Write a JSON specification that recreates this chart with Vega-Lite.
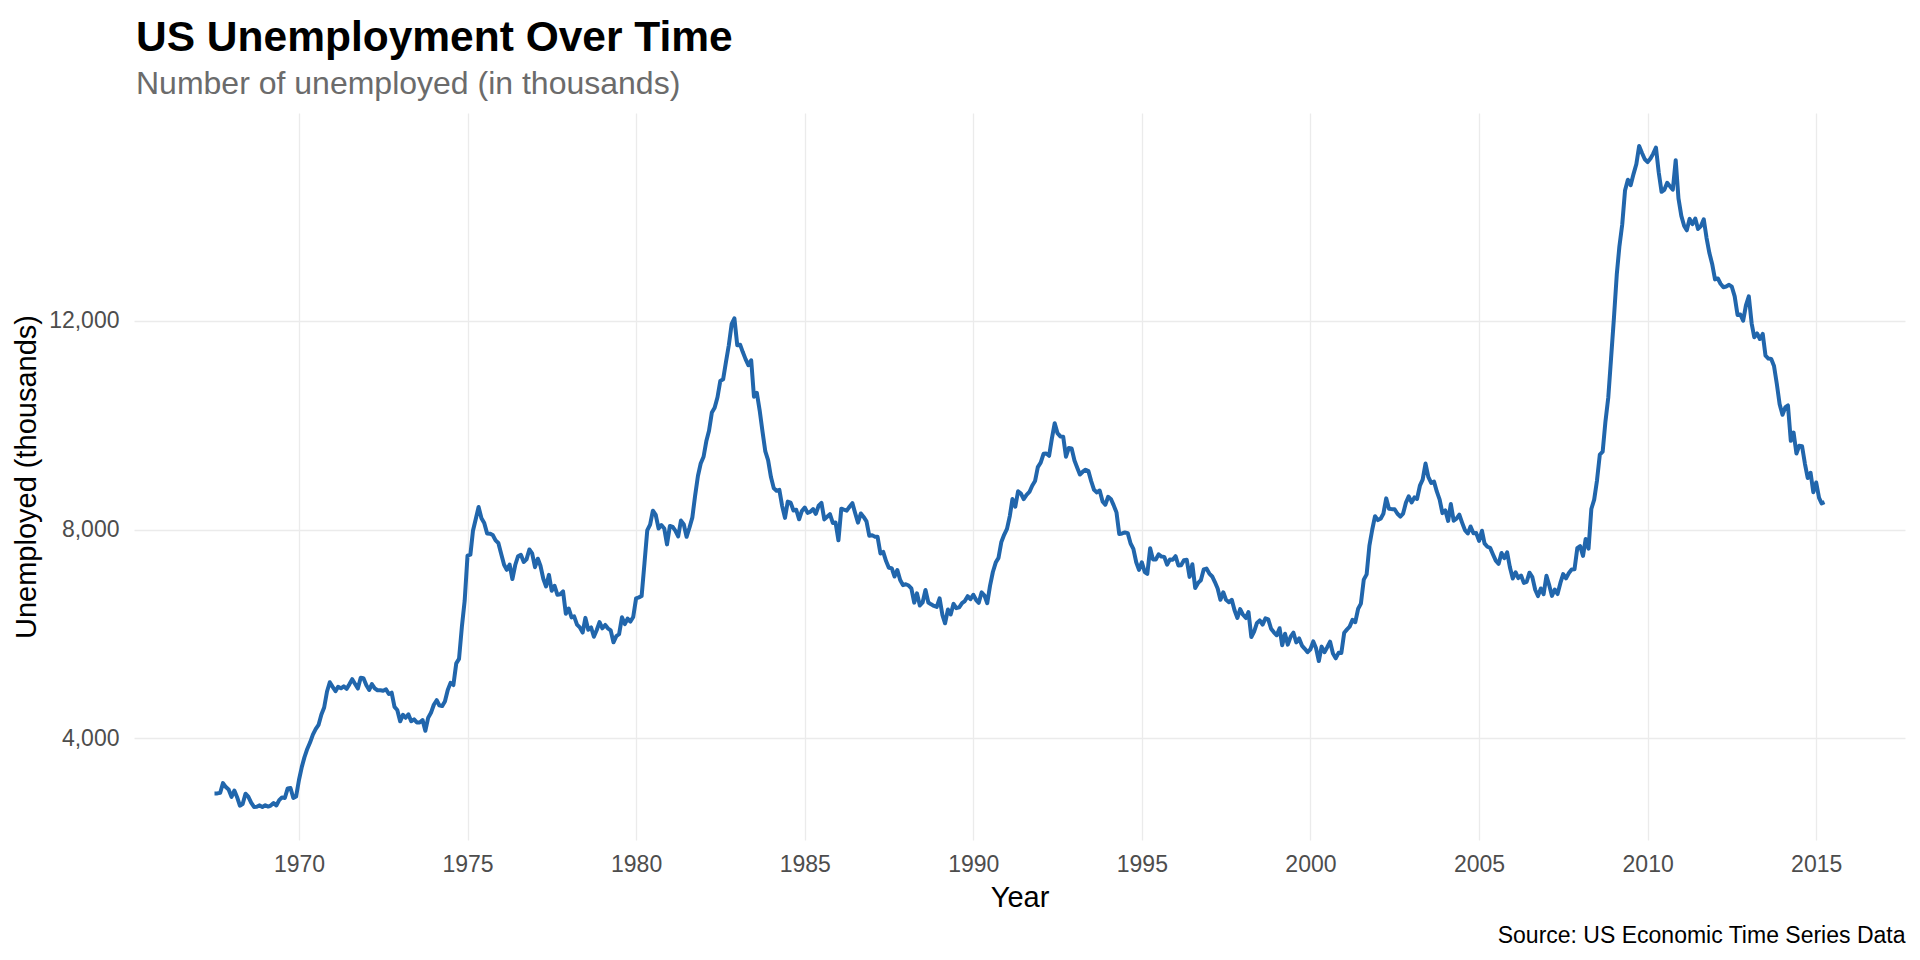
{
"$schema": "https://vega.github.io/schema/vega-lite/v6.json",
"width": 1771, "height": 727,
"autosize": {"type": "none"},
"padding": {"left": 134, "top": 113, "right": 15, "bottom": 120},
"background": "white",
"title": {"text": "US Unemployment Over Time", "subtitle": "Number of unemployed (in thousands)", "anchor": "start", "frame": "group", "font": "Liberation Sans", "fontSize": 42.5, "fontWeight": "bold", "color": "#000000", "subtitleFont": "Liberation Sans", "subtitleFontSize": 32, "subtitleColor": "#6B6B6B", "subtitlePadding": 10, "offset": 13, "dx": 2},
"data": {"values": [
{"d":"1967-07-01","u":2944},{"d":"1967-08-01","u":2945},{"d":"1967-09-01","u":2958},{"d":"1967-10-01","u":3143},{"d":"1967-11-01","u":3066},{"d":"1967-12-01","u":3018},
{"d":"1968-01-01","u":2878},{"d":"1968-02-01","u":3001},{"d":"1968-03-01","u":2877},{"d":"1968-04-01","u":2709},{"d":"1968-05-01","u":2740},{"d":"1968-06-01","u":2938},{"d":"1968-07-01","u":2883},{"d":"1968-08-01","u":2768},{"d":"1968-09-01","u":2686},{"d":"1968-10-01","u":2689},{"d":"1968-11-01","u":2715},{"d":"1968-12-01","u":2685},
{"d":"1969-01-01","u":2718},{"d":"1969-02-01","u":2692},{"d":"1969-03-01","u":2712},{"d":"1969-04-01","u":2758},{"d":"1969-05-01","u":2713},{"d":"1969-06-01","u":2816},{"d":"1969-07-01","u":2868},{"d":"1969-08-01","u":2856},{"d":"1969-09-01","u":3040},{"d":"1969-10-01","u":3049},{"d":"1969-11-01","u":2856},{"d":"1969-12-01","u":2884},
{"d":"1970-01-01","u":3201},{"d":"1970-02-01","u":3453},{"d":"1970-03-01","u":3635},{"d":"1970-04-01","u":3797},{"d":"1970-05-01","u":3919},{"d":"1970-06-01","u":4071},{"d":"1970-07-01","u":4175},{"d":"1970-08-01","u":4256},{"d":"1970-09-01","u":4456},{"d":"1970-10-01","u":4591},{"d":"1970-11-01","u":4898},{"d":"1970-12-01","u":5076},
{"d":"1971-01-01","u":4986},{"d":"1971-02-01","u":4903},{"d":"1971-03-01","u":4987},{"d":"1971-04-01","u":4959},{"d":"1971-05-01","u":4996},{"d":"1971-06-01","u":4949},{"d":"1971-07-01","u":5035},{"d":"1971-08-01","u":5134},{"d":"1971-09-01","u":5042},{"d":"1971-10-01","u":4954},{"d":"1971-11-01","u":5161},{"d":"1971-12-01","u":5154},
{"d":"1972-01-01","u":5019},{"d":"1972-02-01","u":4928},{"d":"1972-03-01","u":5038},{"d":"1972-04-01","u":4959},{"d":"1972-05-01","u":4922},{"d":"1972-06-01","u":4923},{"d":"1972-07-01","u":4913},{"d":"1972-08-01","u":4939},{"d":"1972-09-01","u":4849},{"d":"1972-10-01","u":4875},{"d":"1972-11-01","u":4602},{"d":"1972-12-01","u":4543},
{"d":"1973-01-01","u":4326},{"d":"1973-02-01","u":4452},{"d":"1973-03-01","u":4394},{"d":"1973-04-01","u":4459},{"d":"1973-05-01","u":4329},{"d":"1973-06-01","u":4363},{"d":"1973-07-01","u":4305},{"d":"1973-08-01","u":4305},{"d":"1973-09-01","u":4350},{"d":"1973-10-01","u":4144},{"d":"1973-11-01","u":4396},{"d":"1973-12-01","u":4489},
{"d":"1974-01-01","u":4644},{"d":"1974-02-01","u":4731},{"d":"1974-03-01","u":4634},{"d":"1974-04-01","u":4618},{"d":"1974-05-01","u":4705},{"d":"1974-06-01","u":4927},{"d":"1974-07-01","u":5063},{"d":"1974-08-01","u":5022},{"d":"1974-09-01","u":5437},{"d":"1974-10-01","u":5523},{"d":"1974-11-01","u":6140},{"d":"1974-12-01","u":6636},
{"d":"1975-01-01","u":7501},{"d":"1975-02-01","u":7520},{"d":"1975-03-01","u":7978},{"d":"1975-04-01","u":8210},{"d":"1975-05-01","u":8433},{"d":"1975-06-01","u":8220},{"d":"1975-07-01","u":8127},{"d":"1975-08-01","u":7928},{"d":"1975-09-01","u":7923},{"d":"1975-10-01","u":7897},{"d":"1975-11-01","u":7794},{"d":"1975-12-01","u":7744},
{"d":"1976-01-01","u":7534},{"d":"1976-02-01","u":7326},{"d":"1976-03-01","u":7230},{"d":"1976-04-01","u":7330},{"d":"1976-05-01","u":7053},{"d":"1976-06-01","u":7322},{"d":"1976-07-01","u":7490},{"d":"1976-08-01","u":7518},{"d":"1976-09-01","u":7380},{"d":"1976-10-01","u":7430},{"d":"1976-11-01","u":7620},{"d":"1976-12-01","u":7545},
{"d":"1977-01-01","u":7280},{"d":"1977-02-01","u":7443},{"d":"1977-03-01","u":7307},{"d":"1977-04-01","u":7059},{"d":"1977-05-01","u":6911},{"d":"1977-06-01","u":7134},{"d":"1977-07-01","u":6829},{"d":"1977-08-01","u":6925},{"d":"1977-09-01","u":6751},{"d":"1977-10-01","u":6763},{"d":"1977-11-01","u":6815},{"d":"1977-12-01","u":6386},
{"d":"1978-01-01","u":6489},{"d":"1978-02-01","u":6318},{"d":"1978-03-01","u":6337},{"d":"1978-04-01","u":6180},{"d":"1978-05-01","u":6127},{"d":"1978-06-01","u":6028},{"d":"1978-07-01","u":6309},{"d":"1978-08-01","u":6080},{"d":"1978-09-01","u":6125},{"d":"1978-10-01","u":5947},{"d":"1978-11-01","u":6077},{"d":"1978-12-01","u":6228},
{"d":"1979-01-01","u":6109},{"d":"1979-02-01","u":6173},{"d":"1979-03-01","u":6109},{"d":"1979-04-01","u":6069},{"d":"1979-05-01","u":5840},{"d":"1979-06-01","u":5959},{"d":"1979-07-01","u":5996},{"d":"1979-08-01","u":6320},{"d":"1979-09-01","u":6190},{"d":"1979-10-01","u":6296},{"d":"1979-11-01","u":6238},{"d":"1979-12-01","u":6325},
{"d":"1980-01-01","u":6683},{"d":"1980-02-01","u":6702},{"d":"1980-03-01","u":6729},{"d":"1980-04-01","u":7358},{"d":"1980-05-01","u":7984},{"d":"1980-06-01","u":8098},{"d":"1980-07-01","u":8363},{"d":"1980-08-01","u":8281},{"d":"1980-09-01","u":8021},{"d":"1980-10-01","u":8088},{"d":"1980-11-01","u":8023},{"d":"1980-12-01","u":7718},
{"d":"1981-01-01","u":8071},{"d":"1981-02-01","u":8051},{"d":"1981-03-01","u":7982},{"d":"1981-04-01","u":7869},{"d":"1981-05-01","u":8174},{"d":"1981-06-01","u":8098},{"d":"1981-07-01","u":7863},{"d":"1981-08-01","u":8036},{"d":"1981-09-01","u":8230},{"d":"1981-10-01","u":8646},{"d":"1981-11-01","u":9029},{"d":"1981-12-01","u":9267},
{"d":"1982-01-01","u":9397},{"d":"1982-02-01","u":9705},{"d":"1982-03-01","u":9895},{"d":"1982-04-01","u":10244},{"d":"1982-05-01","u":10335},{"d":"1982-06-01","u":10538},{"d":"1982-07-01","u":10849},{"d":"1982-08-01","u":10881},{"d":"1982-09-01","u":11217},{"d":"1982-10-01","u":11529},{"d":"1982-11-01","u":11938},{"d":"1982-12-01","u":12051},
{"d":"1983-01-01","u":11534},{"d":"1983-02-01","u":11545},{"d":"1983-03-01","u":11408},{"d":"1983-04-01","u":11268},{"d":"1983-05-01","u":11154},{"d":"1983-06-01","u":11246},{"d":"1983-07-01","u":10548},{"d":"1983-08-01","u":10623},{"d":"1983-09-01","u":10282},{"d":"1983-10-01","u":9887},{"d":"1983-11-01","u":9499},{"d":"1983-12-01","u":9331},
{"d":"1984-01-01","u":9008},{"d":"1984-02-01","u":8791},{"d":"1984-03-01","u":8746},{"d":"1984-04-01","u":8762},{"d":"1984-05-01","u":8456},{"d":"1984-06-01","u":8226},{"d":"1984-07-01","u":8537},{"d":"1984-08-01","u":8519},{"d":"1984-09-01","u":8367},{"d":"1984-10-01","u":8381},{"d":"1984-11-01","u":8198},{"d":"1984-12-01","u":8358},
{"d":"1985-01-01","u":8423},{"d":"1985-02-01","u":8321},{"d":"1985-03-01","u":8339},{"d":"1985-04-01","u":8395},{"d":"1985-05-01","u":8302},{"d":"1985-06-01","u":8460},{"d":"1985-07-01","u":8513},{"d":"1985-08-01","u":8196},{"d":"1985-09-01","u":8248},{"d":"1985-10-01","u":8298},{"d":"1985-11-01","u":8128},{"d":"1985-12-01","u":8138},
{"d":"1986-01-01","u":7795},{"d":"1986-02-01","u":8402},{"d":"1986-03-01","u":8383},{"d":"1986-04-01","u":8364},{"d":"1986-05-01","u":8439},{"d":"1986-06-01","u":8508},{"d":"1986-07-01","u":8319},{"d":"1986-08-01","u":8135},{"d":"1986-09-01","u":8310},{"d":"1986-10-01","u":8243},{"d":"1986-11-01","u":8159},{"d":"1986-12-01","u":7883},
{"d":"1987-01-01","u":7892},{"d":"1987-02-01","u":7865},{"d":"1987-03-01","u":7862},{"d":"1987-04-01","u":7542},{"d":"1987-05-01","u":7574},{"d":"1987-06-01","u":7398},{"d":"1987-07-01","u":7268},{"d":"1987-08-01","u":7261},{"d":"1987-09-01","u":7102},{"d":"1987-10-01","u":7227},{"d":"1987-11-01","u":7035},{"d":"1987-12-01","u":6936},
{"d":"1988-01-01","u":6953},{"d":"1988-02-01","u":6929},{"d":"1988-03-01","u":6876},{"d":"1988-04-01","u":6601},{"d":"1988-05-01","u":6779},{"d":"1988-06-01","u":6546},{"d":"1988-07-01","u":6605},{"d":"1988-08-01","u":6843},{"d":"1988-09-01","u":6604},{"d":"1988-10-01","u":6568},{"d":"1988-11-01","u":6537},{"d":"1988-12-01","u":6518},
{"d":"1989-01-01","u":6682},{"d":"1989-02-01","u":6359},{"d":"1989-03-01","u":6205},{"d":"1989-04-01","u":6468},{"d":"1989-05-01","u":6375},{"d":"1989-06-01","u":6577},{"d":"1989-07-01","u":6495},{"d":"1989-08-01","u":6511},{"d":"1989-09-01","u":6590},{"d":"1989-10-01","u":6630},{"d":"1989-11-01","u":6725},{"d":"1989-12-01","u":6667},
{"d":"1990-01-01","u":6752},{"d":"1990-02-01","u":6651},{"d":"1990-03-01","u":6598},{"d":"1990-04-01","u":6797},{"d":"1990-05-01","u":6742},{"d":"1990-06-01","u":6590},{"d":"1990-07-01","u":6922},{"d":"1990-08-01","u":7188},{"d":"1990-09-01","u":7368},{"d":"1990-10-01","u":7459},{"d":"1990-11-01","u":7764},{"d":"1990-12-01","u":7901},
{"d":"1991-01-01","u":8015},{"d":"1991-02-01","u":8265},{"d":"1991-03-01","u":8586},{"d":"1991-04-01","u":8439},{"d":"1991-05-01","u":8736},{"d":"1991-06-01","u":8692},{"d":"1991-07-01","u":8586},{"d":"1991-08-01","u":8666},{"d":"1991-09-01","u":8722},{"d":"1991-10-01","u":8842},{"d":"1991-11-01","u":8931},{"d":"1991-12-01","u":9198},
{"d":"1992-01-01","u":9283},{"d":"1992-02-01","u":9454},{"d":"1992-03-01","u":9460},{"d":"1992-04-01","u":9415},{"d":"1992-05-01","u":9744},{"d":"1992-06-01","u":10040},{"d":"1992-07-01","u":9850},{"d":"1992-08-01","u":9787},{"d":"1992-09-01","u":9781},{"d":"1992-10-01","u":9398},{"d":"1992-11-01","u":9565},{"d":"1992-12-01","u":9557},
{"d":"1993-01-01","u":9325},{"d":"1993-02-01","u":9183},{"d":"1993-03-01","u":9056},{"d":"1993-04-01","u":9110},{"d":"1993-05-01","u":9149},{"d":"1993-06-01","u":9121},{"d":"1993-07-01","u":8930},{"d":"1993-08-01","u":8763},{"d":"1993-09-01","u":8714},{"d":"1993-10-01","u":8750},{"d":"1993-11-01","u":8542},{"d":"1993-12-01","u":8477},
{"d":"1994-01-01","u":8630},{"d":"1994-02-01","u":8583},{"d":"1994-03-01","u":8470},{"d":"1994-04-01","u":8331},{"d":"1994-05-01","u":7915},{"d":"1994-06-01","u":7927},{"d":"1994-07-01","u":7946},{"d":"1994-08-01","u":7933},{"d":"1994-09-01","u":7734},{"d":"1994-10-01","u":7632},{"d":"1994-11-01","u":7375},{"d":"1994-12-01","u":7230},
{"d":"1995-01-01","u":7375},{"d":"1995-02-01","u":7187},{"d":"1995-03-01","u":7153},{"d":"1995-04-01","u":7645},{"d":"1995-05-01","u":7430},{"d":"1995-06-01","u":7427},{"d":"1995-07-01","u":7527},{"d":"1995-08-01","u":7484},{"d":"1995-09-01","u":7478},{"d":"1995-10-01","u":7328},{"d":"1995-11-01","u":7426},{"d":"1995-12-01","u":7423},
{"d":"1996-01-01","u":7491},{"d":"1996-02-01","u":7313},{"d":"1996-03-01","u":7318},{"d":"1996-04-01","u":7415},{"d":"1996-05-01","u":7423},{"d":"1996-06-01","u":7095},{"d":"1996-07-01","u":7337},{"d":"1996-08-01","u":6882},{"d":"1996-09-01","u":6979},{"d":"1996-10-01","u":7031},{"d":"1996-11-01","u":7236},{"d":"1996-12-01","u":7253},
{"d":"1997-01-01","u":7158},{"d":"1997-02-01","u":7102},{"d":"1997-03-01","u":7000},{"d":"1997-04-01","u":6873},{"d":"1997-05-01","u":6655},{"d":"1997-06-01","u":6799},{"d":"1997-07-01","u":6655},{"d":"1997-08-01","u":6608},{"d":"1997-09-01","u":6656},{"d":"1997-10-01","u":6454},{"d":"1997-11-01","u":6308},{"d":"1997-12-01","u":6476},
{"d":"1998-01-01","u":6368},{"d":"1998-02-01","u":6306},{"d":"1998-03-01","u":6422},{"d":"1998-04-01","u":5941},{"d":"1998-05-01","u":6047},{"d":"1998-06-01","u":6212},{"d":"1998-07-01","u":6259},{"d":"1998-08-01","u":6179},{"d":"1998-09-01","u":6300},{"d":"1998-10-01","u":6280},{"d":"1998-11-01","u":6100},{"d":"1998-12-01","u":6032},
{"d":"1999-01-01","u":5976},{"d":"1999-02-01","u":6111},{"d":"1999-03-01","u":5783},{"d":"1999-04-01","u":6004},{"d":"1999-05-01","u":5796},{"d":"1999-06-01","u":5951},{"d":"1999-07-01","u":6025},{"d":"1999-08-01","u":5838},{"d":"1999-09-01","u":5915},{"d":"1999-10-01","u":5778},{"d":"1999-11-01","u":5716},{"d":"1999-12-01","u":5653},
{"d":"2000-01-01","u":5708},{"d":"2000-02-01","u":5858},{"d":"2000-03-01","u":5733},{"d":"2000-04-01","u":5481},{"d":"2000-05-01","u":5758},{"d":"2000-06-01","u":5651},{"d":"2000-07-01","u":5747},{"d":"2000-08-01","u":5853},{"d":"2000-09-01","u":5625},{"d":"2000-10-01","u":5534},{"d":"2000-11-01","u":5639},{"d":"2000-12-01","u":5634},
{"d":"2001-01-01","u":6023},{"d":"2001-02-01","u":6089},{"d":"2001-03-01","u":6141},{"d":"2001-04-01","u":6271},{"d":"2001-05-01","u":6226},{"d":"2001-06-01","u":6484},{"d":"2001-07-01","u":6583},{"d":"2001-08-01","u":7042},{"d":"2001-09-01","u":7142},{"d":"2001-10-01","u":7694},{"d":"2001-11-01","u":8003},{"d":"2001-12-01","u":8258},
{"d":"2002-01-01","u":8182},{"d":"2002-02-01","u":8215},{"d":"2002-03-01","u":8304},{"d":"2002-04-01","u":8599},{"d":"2002-05-01","u":8399},{"d":"2002-06-01","u":8393},{"d":"2002-07-01","u":8390},{"d":"2002-08-01","u":8304},{"d":"2002-09-01","u":8251},{"d":"2002-10-01","u":8307},{"d":"2002-11-01","u":8520},{"d":"2002-12-01","u":8640},
{"d":"2003-01-01","u":8520},{"d":"2003-02-01","u":8618},{"d":"2003-03-01","u":8588},{"d":"2003-04-01","u":8842},{"d":"2003-05-01","u":8957},{"d":"2003-06-01","u":9266},{"d":"2003-07-01","u":9011},{"d":"2003-08-01","u":8896},{"d":"2003-09-01","u":8921},{"d":"2003-10-01","u":8732},{"d":"2003-11-01","u":8576},{"d":"2003-12-01","u":8317},
{"d":"2004-01-01","u":8370},{"d":"2004-02-01","u":8167},{"d":"2004-03-01","u":8491},{"d":"2004-04-01","u":8170},{"d":"2004-05-01","u":8212},{"d":"2004-06-01","u":8286},{"d":"2004-07-01","u":8136},{"d":"2004-08-01","u":7990},{"d":"2004-09-01","u":7927},{"d":"2004-10-01","u":8061},{"d":"2004-11-01","u":7932},{"d":"2004-12-01","u":7934},
{"d":"2005-01-01","u":7784},{"d":"2005-02-01","u":7980},{"d":"2005-03-01","u":7737},{"d":"2005-04-01","u":7672},{"d":"2005-05-01","u":7651},{"d":"2005-06-01","u":7524},{"d":"2005-07-01","u":7406},{"d":"2005-08-01","u":7345},{"d":"2005-09-01","u":7553},{"d":"2005-10-01","u":7453},{"d":"2005-11-01","u":7566},{"d":"2005-12-01","u":7279},
{"d":"2006-01-01","u":7064},{"d":"2006-02-01","u":7184},{"d":"2006-03-01","u":7072},{"d":"2006-04-01","u":7120},{"d":"2006-05-01","u":6980},{"d":"2006-06-01","u":7001},{"d":"2006-07-01","u":7175},{"d":"2006-08-01","u":7091},{"d":"2006-09-01","u":6847},{"d":"2006-10-01","u":6727},{"d":"2006-11-01","u":6872},{"d":"2006-12-01","u":6762},
{"d":"2007-01-01","u":7116},{"d":"2007-02-01","u":6927},{"d":"2007-03-01","u":6731},{"d":"2007-04-01","u":6850},{"d":"2007-05-01","u":6766},{"d":"2007-06-01","u":6979},{"d":"2007-07-01","u":7149},{"d":"2007-08-01","u":7067},{"d":"2007-09-01","u":7170},{"d":"2007-10-01","u":7237},{"d":"2007-11-01","u":7240},{"d":"2007-12-01","u":7645},
{"d":"2008-01-01","u":7685},{"d":"2008-02-01","u":7497},{"d":"2008-03-01","u":7822},{"d":"2008-04-01","u":7637},{"d":"2008-05-01","u":8395},{"d":"2008-06-01","u":8575},{"d":"2008-07-01","u":8937},{"d":"2008-08-01","u":9438},{"d":"2008-09-01","u":9494},{"d":"2008-10-01","u":10074},{"d":"2008-11-01","u":10538},{"d":"2008-12-01","u":11286},
{"d":"2009-01-01","u":12058},{"d":"2009-02-01","u":12898},{"d":"2009-03-01","u":13426},{"d":"2009-04-01","u":13853},{"d":"2009-05-01","u":14499},{"d":"2009-06-01","u":14707},{"d":"2009-07-01","u":14601},{"d":"2009-08-01","u":14814},{"d":"2009-09-01","u":15009},{"d":"2009-10-01","u":15352},{"d":"2009-11-01","u":15219},{"d":"2009-12-01","u":15098},
{"d":"2010-01-01","u":15046},{"d":"2010-02-01","u":15113},{"d":"2010-03-01","u":15202},{"d":"2010-04-01","u":15325},{"d":"2010-05-01","u":14849},{"d":"2010-06-01","u":14474},{"d":"2010-07-01","u":14512},{"d":"2010-08-01","u":14648},{"d":"2010-09-01","u":14579},{"d":"2010-10-01","u":14516},{"d":"2010-11-01","u":15081},{"d":"2010-12-01","u":14348},
{"d":"2011-01-01","u":14013},{"d":"2011-02-01","u":13820},{"d":"2011-03-01","u":13737},{"d":"2011-04-01","u":13957},{"d":"2011-05-01","u":13855},{"d":"2011-06-01","u":13962},{"d":"2011-07-01","u":13763},{"d":"2011-08-01","u":13818},{"d":"2011-09-01","u":13948},{"d":"2011-10-01","u":13594},{"d":"2011-11-01","u":13302},{"d":"2011-12-01","u":13093},
{"d":"2012-01-01","u":12797},{"d":"2012-02-01","u":12813},{"d":"2012-03-01","u":12713},{"d":"2012-04-01","u":12646},{"d":"2012-05-01","u":12660},{"d":"2012-06-01","u":12692},{"d":"2012-07-01","u":12656},{"d":"2012-08-01","u":12471},{"d":"2012-09-01","u":12115},{"d":"2012-10-01","u":12124},{"d":"2012-11-01","u":12005},{"d":"2012-12-01","u":12298},
{"d":"2013-01-01","u":12471},{"d":"2013-02-01","u":11950},{"d":"2013-03-01","u":11689},{"d":"2013-04-01","u":11760},{"d":"2013-05-01","u":11654},{"d":"2013-06-01","u":11751},{"d":"2013-07-01","u":11335},{"d":"2013-08-01","u":11279},{"d":"2013-09-01","u":11270},{"d":"2013-10-01","u":11136},{"d":"2013-11-01","u":10787},{"d":"2013-12-01","u":10404},
{"d":"2014-01-01","u":10202},{"d":"2014-02-01","u":10349},{"d":"2014-03-01","u":10380},{"d":"2014-04-01","u":9702},{"d":"2014-05-01","u":9859},{"d":"2014-06-01","u":9460},{"d":"2014-07-01","u":9608},{"d":"2014-08-01","u":9599},{"d":"2014-09-01","u":9262},{"d":"2014-10-01","u":8990},{"d":"2014-11-01","u":9090},{"d":"2014-12-01","u":8717},
{"d":"2015-01-01","u":8903},{"d":"2015-02-01","u":8610},{"d":"2015-03-01","u":8504},{"d":"2015-04-01","u":8526}
]},
"layer": [
{"mark": {"type": "line", "color": "#2166AC", "strokeWidth": 4, "strokeJoin": "round"},
 "encoding": {
  "x": {"field": "d", "type": "temporal",
        "scale": {"domain": [{"year": 1965, "month": 2, "date": 9}, {"year": 2017, "month": 8, "date": 20}]},
        "axis": {"orient": "bottom", "title": "Year", "format": "%Y", "labelPadding": 13, "titlePadding": 7,
                 "values": [{"year": 1970, "month": 1, "date": 1}, {"year": 1975, "month": 1, "date": 1}, {"year": 1980, "month": 1, "date": 1}, {"year": 1985, "month": 1, "date": 1}, {"year": 1990, "month": 1, "date": 1}, {"year": 1995, "month": 1, "date": 1}, {"year": 2000, "month": 1, "date": 1}, {"year": 2005, "month": 1, "date": 1}, {"year": 2010, "month": 1, "date": 1}, {"year": 2015, "month": 1, "date": 1}]}},
  "y": {"field": "u", "type": "quantitative",
        "scale": {"domain": [2051.65, 15985.35], "nice": false, "zero": false},
        "axis": {"title": "Unemployed (thousands)", "values": [4000, 8000, 12000], "format": ",.0f", "labelPadding": 15, "titlePadding": 7}}
 }},
{"mark": {"type": "line", "strokeOpacity": 0},
 "encoding": {
  "x": {"field": "d", "type": "temporal",
        "axis": {"orient": "bottom", "title": "Source: US Economic Time Series Data", "labels": false, "grid": false, "ticks": false, "domain": false,
                 "titleAnchor": "end", "titleFontSize": 23, "titleColor": "#000000", "titlePadding": 84}}
 }}
],
"resolve": {"axis": {"x": "independent"}},
"config": {
  "view": {"stroke": null},
  "axis": {"labelFont": "Liberation Sans", "titleFont": "Liberation Sans", "labelFontSize": 23, "labelColor": "#4D4D4D",
           "titleFontSize": 29, "titleFontWeight": "normal", "titleColor": "#000000",
           "ticks": false, "domain": false, "gridColor": "#EBEBEB", "gridWidth": 1.3}
}
}
